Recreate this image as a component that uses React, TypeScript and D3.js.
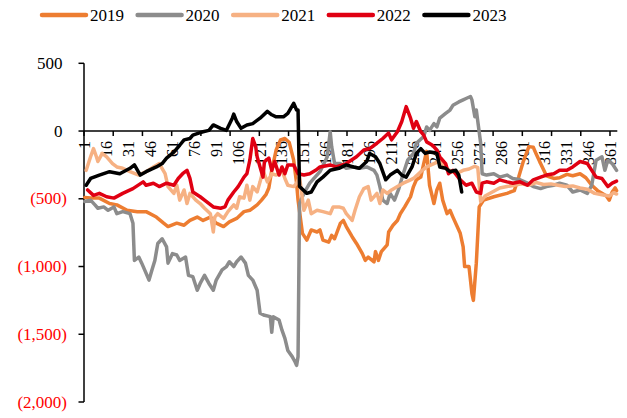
import React from "react";
import * as d3 from "d3";

const years = ["2019", "2020", "2021", "2022", "2023"];
const colors = ["#ED7D31", "#8C8C8C", "#F6B183", "#E00012", "#000000"];

const days2019 = [1,5,11,18,23,30,37,43,50,55,58,64,69,73,78,82,87,91,96,100,105,110,114,119,122,125,127,129,132,135,138,141,144,146,147,150,153,156,160,162,164,168,170,172,176,178,180,184,187,191,193,195,199,200,202,204,208,209,212,215,217,220,224,226,228,231,233,235,237,240,242,244,246,249,251,253,258,260,261,264,266,267,269,271,274,281,290,295,298,301,305,308,310,313,317,322,326,331,335,340,344,348,352,355,358,360,362,364,365];
const vals2019 = [-490,-495,-495,-535,-545,-585,-595,-595,-635,-680,-705,-680,-695,-660,-635,-660,-635,-680,-705,-670,-645,-595,-585,-545,-510,-470,-420,-290,-140,-65,-55,-85,-215,-385,-510,-755,-805,-730,-745,-730,-805,-820,-770,-795,-680,-660,-705,-780,-830,-905,-955,-930,-965,-890,-955,-890,-840,-745,-695,-660,-610,-560,-485,-410,-360,-340,-240,-150,-400,-535,-435,-385,-510,-610,-585,-635,-755,-855,-1000,-1000,-1200,-1250,-975,-560,-510,-485,-460,-440,-340,-230,-115,-120,-170,-240,-330,-350,-345,-320,-330,-315,-345,-400,-440,-460,-480,-510,-450,-420,-440];

const days2020 = [1,5,8,10,14,17,21,23,27,32,34,35,38,40,42,45,47,49,51,54,57,58,61,64,66,70,72,75,78,80,83,86,89,91,95,98,100,103,105,108,111,113,116,119,121,124,128,129,130,134,136,138,140,143,145,146,147,148,151,155,162,167,169,170,172,176,180,185,189,194,199,201,203,205,208,210,213,216,219,222,226,228,233,235,237,240,242,244,248,251,253,257,260,262,265,266,268,269,272,273,276,281,285,290,294,299,304,308,313,317,322,326,331,335,340,345,348,351,355,357,359,362,365];
const vals2020 = [-520,-510,-545,-570,-560,-585,-560,-610,-595,-610,-680,-955,-930,-975,-1025,-1100,-1025,-955,-830,-795,-855,-975,-905,-915,-955,-930,-1065,-1075,-1175,-1125,-1065,-1125,-1175,-1100,-1025,-1000,-965,-1000,-965,-930,-975,-1065,-1100,-1175,-1345,-1360,-1370,-1485,-1370,-1395,-1470,-1530,-1620,-1665,-1705,-1730,-1665,-535,-460,-385,-300,-190,-5,-115,-240,-240,-275,-265,-275,-265,-290,-325,-410,-510,-535,-460,-510,-425,-315,-215,-165,-90,-40,30,5,55,30,95,130,155,190,215,230,240,255,230,105,155,-90,-315,-325,-315,-340,-325,-350,-360,-385,-410,-425,-410,-400,-385,-400,-450,-435,-460,-400,-215,-190,-290,-215,-240,-290];

const days2021 = [2,5,7,9,10,13,16,20,23,27,32,38,43,48,52,56,58,62,64,66,69,71,73,77,80,83,87,89,90,92,96,99,103,105,107,110,112,114,116,119,121,123,126,129,132,136,138,140,144,146,148,151,154,156,160,164,169,171,175,178,180,184,186,189,192,195,197,201,203,205,208,211,215,219,224,226,231,235,240,244,248,252,256,260,264,268,270,272,275,280,285,290,295,300,305,310,315,320,325,330,335,340,345,350,355,360,363,365];
const vals2021 = [-290,-190,-130,-190,-225,-165,-190,-240,-265,-275,-300,-325,-300,-265,-240,-315,-410,-460,-400,-510,-435,-535,-460,-510,-535,-570,-610,-745,-635,-610,-645,-595,-545,-570,-485,-495,-400,-510,-410,-450,-375,-290,-375,-315,-325,-290,-350,-400,-410,-385,-340,-585,-510,-610,-585,-595,-610,-560,-560,-570,-610,-660,-585,-485,-425,-410,-510,-460,-535,-435,-460,-435,-410,-385,-360,-350,-300,-265,-240,-220,-270,-300,-310,-290,-280,-260,-270,-520,-480,-450,-420,-410,-400,-390,-400,-380,-395,-390,-400,-410,-405,-420,-430,-460,-470,-480,-455,-465];

const days2022 = [3,7,11,16,21,27,34,41,43,48,52,57,62,65,68,71,73,75,80,83,89,94,97,99,103,106,110,112,114,116,118,119,121,123,124,127,129,131,134,136,138,140,144,147,151,155,159,162,169,173,180,187,192,196,201,205,209,211,215,218,221,224,226,228,231,233,235,239,242,244,248,250,253,258,262,266,269,272,273,276,281,285,290,294,299,304,308,313,317,322,326,331,335,340,345,348,351,355,359,362,365];
const vals2022 = [-435,-475,-460,-485,-495,-460,-425,-375,-400,-385,-410,-385,-400,-350,-315,-290,-350,-450,-485,-510,-560,-570,-560,-510,-450,-410,-340,-315,-215,-55,-115,-190,-265,-340,-225,-200,-290,-225,-325,-265,-315,-250,-250,-315,-325,-315,-290,-265,-250,-265,-240,-190,-140,-130,-90,-55,-15,-65,-5,70,180,95,20,70,-5,-30,-80,-105,-140,-190,-240,-315,-290,-360,-400,-385,-450,-460,-385,-375,-385,-360,-375,-385,-375,-400,-360,-340,-325,-315,-290,-290,-265,-225,-240,-290,-340,-350,-410,-385,-370];

const days2023 = [2,5,11,18,25,32,35,39,43,50,54,57,62,66,69,73,75,79,82,86,89,94,98,102,103,105,108,112,116,121,126,129,132,137,140,144,146,147,148,153,156,160,164,169,175,180,185,189,194,196,200,203,207,210,215,218,221,225,228,231,234,237,242,244,248,251,255,257,259];
const vals2023 = [-400,-350,-325,-300,-315,-275,-250,-325,-300,-265,-240,-200,-155,-105,-65,-55,-30,-15,-5,5,45,20,5,95,125,70,20,45,55,95,145,120,105,105,130,205,155,155,-410,-460,-450,-375,-340,-290,-275,-250,-265,-275,-225,-165,-190,-240,-360,-325,-290,-325,-340,-265,-165,-130,-165,-155,-165,-265,-275,-300,-290,-325,-450];

const seriesDays = [days2019, days2020, days2021, days2022, days2023];
const seriesVals = [vals2019, vals2020, vals2021, vals2022, vals2023];

const categoryCount = 365;
const yTicks = [500, 0, -500, -1000, -1500, -2000];
const xLabelDays = d3.range(1, 362, 15);
const xTickBounds = d3.range(0, 361, 20);

const FONT = "Liberation Serif";

export default function App() {
  const x = d3.scaleLinear().domain([0.5, categoryCount + 0.5]).range([84, 617.3]);
  const y = d3.scaleLinear().domain([-2000, 500]).range([402, 63.3]);
  const fmt = d3.format(",");
  const line = d3
    .line<[number, number]>()
    .x((d) => x(d[0]))
    .y((d) => y(d[1]));

  const y0 = y(0);

  return (
    <svg
      width={627}
      height={418}
      style={{ position: "absolute", left: 0, top: 0, background: "#fff" }}
    >
      <rect x={0} y={0} width={627} height={418} fill="#fff" />
      {/* Legend */}
      {years.map((yr, i) => {
        const lx = 42 + i * 95.6;
        return (
          <g key={yr}>
            <line
              x1={lx}
              x2={lx + 44}
              y1={15}
              y2={15}
              stroke={colors[i]}
              strokeWidth={4.5}
              strokeLinecap="round"
            />
            <text
              x={lx + 48}
              y={15}
              fontSize={17}
              fontFamily={FONT}
              fontWeight="normal"
              dominantBaseline="central"
              fill="#000"
            >
              {yr}
            </text>
          </g>
        );
      })}

      {/* Y axis */}
      <line x1={84} x2={84} y1={y(500)} y2={y(-2000)} stroke="#000" strokeWidth={1.5} />
      {yTicks.map((t) => (
        <g key={t}>
          <line x1={78.5} x2={84} y1={y(t)} y2={y(t)} stroke="#000" strokeWidth={1.5} />
          <text
            x={t < 0 ? 67 : 62.5}
            y={y(t)}
            fontSize={17}
            fontFamily={FONT}
            fontWeight="normal"
            textAnchor="end"
            dominantBaseline="central"
            fill={t < 0 ? "#FF0000" : "#000"}
          >
            {t < 0 ? `(${fmt(-t)})` : fmt(t)}
          </text>
        </g>
      ))}

      {/* X axis */}
      <line x1={84} x2={x(categoryCount + 0.5)} y1={y0} y2={y0} stroke="#000" strokeWidth={1.5} />
      {xTickBounds.map((b) => (
        <line
          key={b}
          x1={x(b + 0.5)}
          x2={x(b + 0.5)}
          y1={y0}
          y2={y0 + 5}
          stroke="#000"
          strokeWidth={1.5}
        />
      ))}
      {xLabelDays.map((dd) => (
        <text
          key={dd}
          transform={`translate(${x(dd)},${y0 + 10}) rotate(-90)`}
          fontSize={16}
          fontFamily={FONT}
          fontWeight="normal"
          textAnchor="end"
          dominantBaseline="central"
          fill="#000"
        >
          {dd}
        </text>
      ))}

      {/* Series */}
      {years.map((yr, i) => {
        const pts: [number, number][] = seriesDays[i].map((dd, j) => [dd, seriesVals[i][j]]);
        return (
          <path
            key={yr}
            d={line(pts) || ""}
            fill="none"
            stroke={colors[i]}
            strokeWidth={3.5}
            strokeLinejoin="round"
            strokeLinecap="round"
          />
        );
      })}
    </svg>
  );
}
